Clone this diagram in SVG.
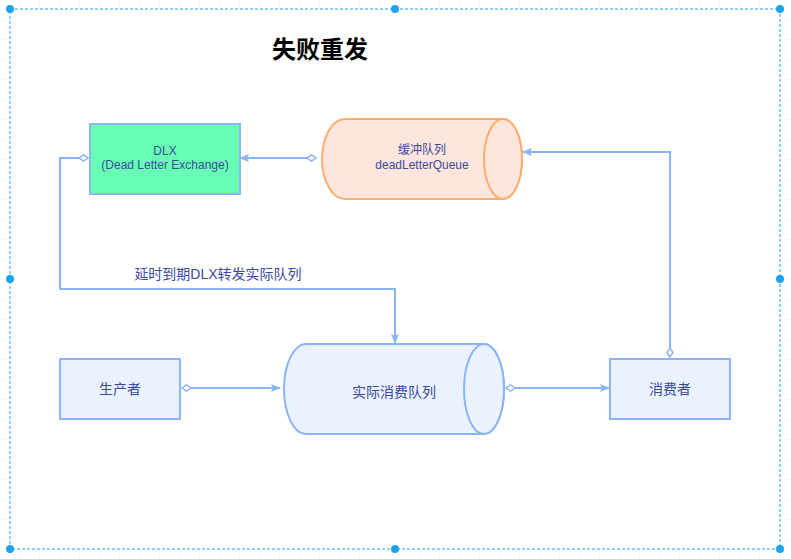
<svg xmlns="http://www.w3.org/2000/svg" width="791" height="559" viewBox="0 0 791 559">
<style>
.t{font-family:"Liberation Sans","Noto Sans CJK SC",sans-serif;fill:#3a4a9c;text-anchor:middle}
.c{fill:none;stroke:#8ab4f8;stroke-width:2}
.h{fill:#1aa3f0}
</style>
<defs>
<pattern id="g" width="20" height="20" patternUnits="userSpaceOnUse"><path d="M20 0V20H0" fill="none" stroke="#eeeeee" stroke-width="1"/></pattern>
<marker id="a" markerWidth="10" markerHeight="8" refX="9" refY="4" orient="auto" markerUnits="userSpaceOnUse"><path d="M0 0L10 4L0 8L2 4Z" fill="#8ab4f8"/></marker>
<marker id="d" markerWidth="12" markerHeight="8" refX="1" refY="4" orient="auto" markerUnits="userSpaceOnUse"><path d="M1 4L5.5 1L10 4L5.5 7Z" fill="#fff" stroke="#8ab4f8" stroke-width="1.5"/></marker>
</defs>
<rect width="791" height="559" fill="url(#g)"/>
<rect x="10" y="9" width="770" height="540" fill="#fff" stroke="#1aa3f0" stroke-dasharray="3,2"/>
<g class="h"><circle cx="10" cy="9" r="4"/><circle cx="395" cy="9" r="4"/><circle cx="780" cy="9" r="4"/><circle cx="10" cy="279" r="4"/><circle cx="780" cy="279" r="4"/><circle cx="10" cy="549" r="4"/><circle cx="395" cy="549" r="4"/><circle cx="780" cy="549" r="4"/></g>
<text x="320" y="58" font-family="Liberation Sans,Noto Sans CJK SC,sans-serif" font-size="24" font-weight="bold" text-anchor="middle" fill="#000">失败重发</text>
<g id="connectors" class="c">
<path d="M316 158H240" marker-start="url(#d)" marker-end="url(#a)"/>
<path d="M88 158H60V289H395V343" marker-start="url(#d)" marker-end="url(#a)"/>
<path d="M182 388H280" marker-start="url(#d)" marker-end="url(#a)"/>
<path d="M506 388H609" marker-start="url(#d)" marker-end="url(#a)"/>
<path d="M670 357V152H523" marker-start="url(#d)" marker-end="url(#a)"/>
</g>
<text class="t" x="218" y="279" font-size="14">延时到期DLX转发实际队列</text>
<g id="dlx"><rect x="90" y="124" width="150" height="70" fill="#66ffb3" stroke="#8ab4f8" stroke-width="2"/>
<text class="t" x="165" y="155" font-size="12">DLX</text><text class="t" x="165" y="169" font-size="12">(Dead Letter Exchange)</text></g>
<g id="buffer"><path d="M345 119H503A19 40 0 0 1 503 199H345A23 40 0 0 1 345 119Z" fill="#ffe6dc" stroke="#ffad6f" stroke-width="2"/>
<ellipse cx="503" cy="159" rx="19" ry="40" fill="#ffe6dc" stroke="#ffad6f" stroke-width="2"/>
<text class="t" x="422" y="154" font-size="12">缓冲队列</text><text class="t" x="422" y="169" font-size="12">deadLetterQueue</text></g>
<g id="producer"><rect x="60" y="359" width="120" height="60" fill="#eaf2ff" stroke="#8ab4f8" stroke-width="2"/><text class="t" x="120" y="394" font-size="14">生产者</text></g>
<g id="queue"><path d="M306 344H484A20 45 0 0 1 484 434H306A22 45 0 0 1 306 344Z" fill="#eaf2ff" stroke="#8ab4f8" stroke-width="2"/>
<ellipse cx="484" cy="389" rx="20" ry="45" fill="#eaf2ff" stroke="#8ab4f8" stroke-width="2"/>
<text class="t" x="394" y="397" font-size="14">实际消费队列</text></g>
<g id="consumer"><rect x="610" y="359" width="120" height="60" fill="#eaf2ff" stroke="#8ab4f8" stroke-width="2"/><text class="t" x="670" y="394" font-size="14">消费者</text></g>
</svg>
